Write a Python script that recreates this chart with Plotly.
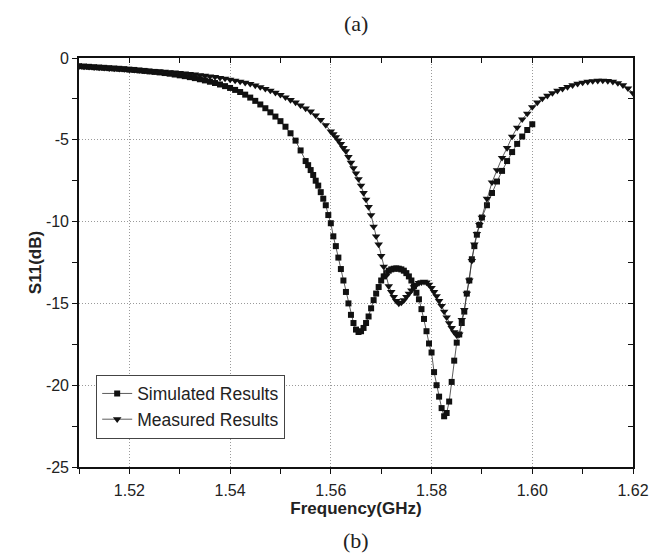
import plotly.graph_objects as go

# ---------------- data ----------------
sim_freq = [
    1.510, 1.511, 1.512, 1.513, 1.514, 1.515, 1.516, 1.517, 1.518, 1.519,
    1.520, 1.521, 1.522, 1.523, 1.524, 1.525, 1.526, 1.527, 1.528, 1.529,
    1.530, 1.531, 1.532, 1.533, 1.534, 1.535, 1.536, 1.537, 1.538, 1.539,
    1.540, 1.541, 1.542, 1.543, 1.544, 1.545, 1.546, 1.547, 1.548, 1.549,
    1.550, 1.551, 1.552, 1.553, 1.554,
    1.5550, 1.5555, 1.5560, 1.5565, 1.5570, 1.5575, 1.5580, 1.5585, 1.5590, 1.5595,
    1.5600, 1.5605, 1.5610, 1.5615, 1.5620, 1.5625, 1.5630, 1.5635, 1.5640, 1.5645,
    1.5650, 1.5655, 1.5660, 1.5665, 1.5670, 1.5675, 1.5680, 1.5685, 1.5690, 1.5695,
    1.5700, 1.5705, 1.5710, 1.5715, 1.5720, 1.5725, 1.5730, 1.5735, 1.5740, 1.5745,
    1.5750, 1.5755, 1.5760, 1.5765, 1.5770, 1.5775, 1.5780, 1.5785, 1.5790, 1.5795,
    1.5800, 1.5805, 1.5810, 1.5815, 1.5820, 1.5825, 1.5830, 1.5835, 1.5840, 1.5845,
    1.5850, 1.5855, 1.5860, 1.5865, 1.5870, 1.5875, 1.5880, 1.5885, 1.5890, 1.5895,
    1.590, 1.591, 1.592, 1.593, 1.594, 1.595, 1.596, 1.597, 1.598, 1.599, 1.600,
]
sim_s11 = [
    -0.50, -0.52, -0.54, -0.56, -0.58, -0.60, -0.62, -0.64, -0.66, -0.68,
    -0.71, -0.73, -0.76, -0.79, -0.82, -0.85, -0.88, -0.92, -0.96, -1.01,
    -1.06, -1.11, -1.17, -1.23, -1.30, -1.37, -1.45, -1.53, -1.62, -1.72,
    -1.83, -1.95, -2.08, -2.24, -2.42, -2.62, -2.84, -3.07, -3.32, -3.58,
    -3.86, -4.20, -4.60, -5.05, -5.65,
    -6.30, -6.55, -6.85, -7.15, -7.50, -7.80, -8.20, -8.60, -9.00, -9.60,
    -10.1, -10.9, -11.5, -12.2, -12.9, -13.6, -14.3, -15.0, -15.7, -16.2,
    -16.6, -16.75, -16.7, -16.5, -16.2, -15.8, -15.3, -14.8, -14.4, -14.0,
    -13.6, -13.35, -13.15, -13.0, -12.92, -12.88, -12.86, -12.88, -12.92, -13.0,
    -13.15, -13.35, -13.6, -13.95, -14.35, -14.75, -15.35, -15.95, -16.7, -17.45,
    -18.0, -19.2, -20.0, -20.7, -21.4, -21.9, -21.7, -21.0, -19.8, -18.5,
    -17.4, -16.9, -16.2, -15.5, -14.4, -13.6, -12.3, -11.5, -10.8, -10.2,
    -9.75, -9.0, -8.25, -7.55, -6.9, -6.3, -5.75, -5.25, -4.8, -4.4, -4.05,
]

meas_freq = [
    1.510, 1.511, 1.512, 1.513, 1.514, 1.515, 1.516, 1.517, 1.518, 1.519,
    1.520, 1.521, 1.522, 1.523, 1.524, 1.525, 1.526, 1.527, 1.528, 1.529,
    1.530, 1.531, 1.532, 1.533, 1.534, 1.535, 1.536, 1.537, 1.538, 1.539,
    1.540, 1.541, 1.542, 1.543, 1.544, 1.545, 1.546, 1.547, 1.548, 1.549,
    1.550, 1.551, 1.552, 1.553, 1.554, 1.555, 1.556, 1.557, 1.558, 1.559,
    1.560,
    1.5605, 1.5610, 1.5615, 1.5620, 1.5625, 1.5630, 1.5635, 1.5640, 1.5645,
    1.5650, 1.5655, 1.5660, 1.5665, 1.5670, 1.5675, 1.5680, 1.5685, 1.5690, 1.5695,
    1.5700, 1.5705, 1.5710, 1.5715, 1.5720, 1.5725, 1.5730, 1.5735, 1.5740, 1.5745,
    1.5750, 1.5755, 1.5760, 1.5765, 1.5770, 1.5775, 1.5780, 1.5785, 1.5790, 1.5795,
    1.5800, 1.5805, 1.5810, 1.5815, 1.5820, 1.5825, 1.5830, 1.5835, 1.5840, 1.5845,
    1.5850, 1.5855, 1.5860, 1.5865, 1.5870, 1.5875, 1.5880, 1.5885, 1.5890, 1.5895,
    1.590, 1.591, 1.592, 1.593, 1.594, 1.595, 1.596, 1.597, 1.598, 1.599,
    1.600, 1.601, 1.602, 1.603, 1.604, 1.605, 1.606, 1.607, 1.608, 1.609,
    1.610, 1.611, 1.612, 1.613, 1.614, 1.615, 1.616, 1.617, 1.618, 1.619, 1.620,
]
meas_s11 = [
    -0.50, -0.52, -0.54, -0.56, -0.58, -0.60, -0.62, -0.64, -0.66, -0.68,
    -0.70, -0.72, -0.74, -0.76, -0.78, -0.80, -0.82, -0.84, -0.86, -0.88,
    -0.91, -0.94, -0.97, -1.00, -1.04, -1.08, -1.12, -1.16, -1.21, -1.26,
    -1.32, -1.38, -1.44, -1.51, -1.58, -1.68, -1.78, -1.88, -1.99, -2.12,
    -2.25, -2.40, -2.56, -2.72, -2.90, -3.08, -3.27, -3.50, -3.78, -4.10,
    -4.49,
    -4.65, -4.83, -5.04, -5.25, -5.50, -5.70, -6.05, -6.40, -6.73,
    -7.05, -7.40, -7.80, -8.25, -8.65, -9.10, -9.60, -10.3, -10.9, -11.4,
    -12.1, -12.75, -13.3, -13.95, -14.3, -14.6, -14.85, -15.0, -14.95, -14.8,
    -14.6, -14.4, -14.2, -14.0, -13.85, -13.75, -13.7, -13.67, -13.72, -13.85,
    -14.05, -14.3, -14.55, -14.85, -15.15, -15.5, -15.85, -16.2, -16.5, -16.75,
    -16.95, -16.9, -16.0, -15.4, -14.4, -13.6, -12.4, -11.4, -10.75, -10.2,
    -9.75, -8.6, -7.6, -6.85, -6.1, -5.5, -4.8, -4.25, -3.75, -3.4,
    -3.0, -2.72, -2.48, -2.30, -2.14, -2.00, -1.88, -1.77, -1.66, -1.57,
    -1.50, -1.45, -1.41, -1.39, -1.38, -1.40, -1.45, -1.53, -1.66, -1.85, -2.14,
]

series_names = ["Simulated Results", "Measured Results"]
y_tick_vals = [0, -5, -10, -15, -20, -25]
y_tick_text = ["0", "-5", "-10", "-15", "-20", "-25"]
x_tick_vals = [1.52, 1.54, 1.56, 1.58, 1.60, 1.62]
x_tick_text = ["1.52", "1.54", "1.56", "1.58", "1.60", "1.62"]
top_label = "(a)"
bottom_label = "(b)"

# ---------------- figure ----------------
fig = go.Figure()
fig.add_trace(go.Scatter(
    x=sim_freq, y=sim_s11, name=series_names[0], mode="lines+markers",
    line=dict(color="#333333", width=0.8),
    marker=dict(symbol="square", size=6, color="#111111"),
))
fig.add_trace(go.Scatter(
    x=meas_freq, y=meas_s11, name=series_names[1], mode="lines+markers",
    line=dict(color="#333333", width=0.8),
    marker=dict(symbol="triangle-down", size=7.5, color="#111111"),
))

axis_font = dict(family="Liberation Sans, Arial", size=16, color="#222222")
title_font = dict(family="Liberation Sans, Arial", size=17, color="#222222")
xr = [1.51, 1.62]
yr = [-25, 0]
grid = dict(showgrid=True, gridcolor="#9a9a9a", griddash="1px,2px", gridwidth=1)
tk = dict(ticklen=5, tickwidth=1.2, tickcolor="#111111")

# the page body has an 8px browser margin, so the figure is sized/offset for it
fig.update_layout(
    width=654, height=550,
    margin=dict(l=71, r=29, t=50, b=91),
    paper_bgcolor="white", plot_bgcolor="white",
    showlegend=True,
    legend=dict(
        x=0.031, y=0.226, xanchor="left", yanchor="top",
        bgcolor="white", bordercolor="#444444", borderwidth=1,
        font=dict(family="Liberation Sans, Arial", size=17.5, color="#222222"),
        tracegroupgap=0, itemwidth=30,
    ),
    xaxis=dict(
        range=xr, tickmode="array", tickvals=x_tick_vals, ticktext=x_tick_text,
        showline=True, linecolor="#111111", linewidth=1.6, mirror=True,
        ticks="outside", **tk,
        minor=dict(dtick=0.01, tick0=1.51, ticks="outside", showgrid=False, **tk),
        **grid, tickfont=axis_font, zeroline=False, ticklabelstandoff=3,
        title=dict(text="<b>Frequency(GHz)</b>", standoff=4, font=title_font),
    ),
    yaxis=dict(
        range=yr, tickmode="array", tickvals=y_tick_vals, ticktext=y_tick_text,
        showline=True, linecolor="#111111", linewidth=1.6, mirror=True,
        ticks="outside", **tk,
        minor=dict(dtick=2.5, tick0=0, ticks="outside", showgrid=False, **tk),
        **grid, tickfont=axis_font, zeroline=False,
        title=dict(text="<b>S11(dB)</b>", standoff=0, font=title_font),
    ),
    xaxis2=dict(
        overlaying="x", side="top", range=xr, showticklabels=False,
        tickmode="array", tickvals=x_tick_vals, ticks="inside", **tk,
        showgrid=False, zeroline=False, showline=False,
        minor=dict(dtick=0.01, tick0=1.51, ticks="inside", showgrid=False, **tk),
    ),
    yaxis2=dict(
        overlaying="y", side="right", range=yr, showticklabels=False,
        tickmode="array", tickvals=y_tick_vals, ticks="inside", **tk,
        showgrid=False, zeroline=False, showline=False,
        minor=dict(dtick=2.5, tick0=0, ticks="inside", showgrid=False, **tk),
    ),
    annotations=[
        dict(text=top_label, xref="paper", yref="paper", x=0.5, y=1.0,
             xanchor="center", yanchor="bottom", yshift=20, showarrow=False,
             font=dict(family="Liberation Serif, Times New Roman", size=22, color="#222222")),
        dict(text=bottom_label, xref="paper", yref="paper", x=0.5, y=0.0,
             xanchor="center", yanchor="top", yshift=-59, showarrow=False,
             font=dict(family="Liberation Serif, Times New Roman", size=22, color="#222222")),
    ],
)
# invisible helper trace so the mirrored tick axes are drawn
fig.add_trace(go.Scatter(x=[None], y=[None], xaxis="x2", yaxis="y2",
                         showlegend=False, hoverinfo="skip"))

fig.write_html("out.html")
